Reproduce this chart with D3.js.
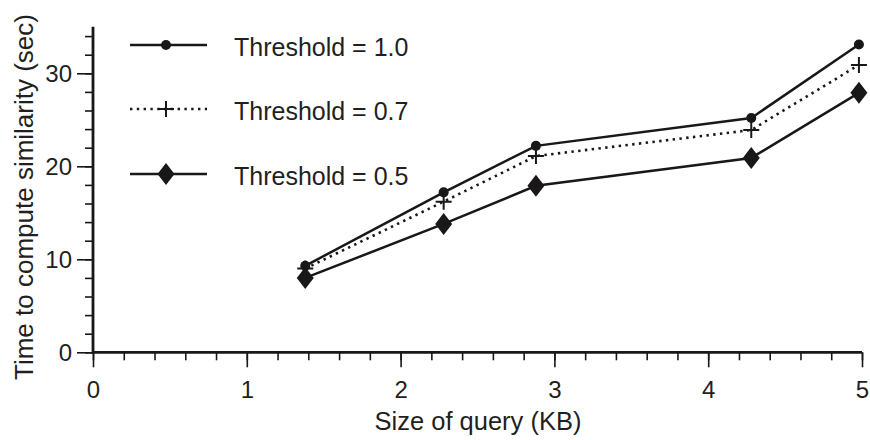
<!DOCTYPE html>
<html>
<head>
<meta charset="utf-8">
<script src="https://cdn.jsdelivr.net/npm/d3@7"></script>
<style>
  body { margin: 0; background: #fff; }
  text { font-family: "Liberation Sans", Arial, sans-serif; fill: #231f20; }
</style>
</head>
<body>
<div id="root"></div>
<script>
// Data.
const sizes = [1.38, 2.28, 2.88, 4.28, 4.98];
const thr10 = [9.3, 17.2, 22.2, 25.2, 33.1];
const thr07 = [9.0, 16.2, 21.1, 23.9, 30.9];
const thr05 = [8.0, 13.8, 17.9, 20.9, 27.9];
const seriesNames = ['Threshold = 1.0', 'Threshold = 0.7', 'Threshold = 0.5'];
const xTicks = [0, 1, 2, 3, 4, 5];
const yTicks = [0, 10, 20, 30];

let width = 870;
let height = 440;
let ink = '#1a1718';

let svg = d3.select('#root')
  .append('svg')
  .attr('width', width)
  .attr('height', height);

let xScale = d3.scaleLinear().domain([0, 5]).range([93, 862]);
let yScale = d3.scaleLinear().domain([0, 35]).range([352.3, 26.8]);

// Minor ticks first, then the major ones on top.
let xMinor = d3.range(0, 5.01, 0.2);
let yMinor = d3.range(0, 35, 2);

let xAxisMinor = d3.axisBottom(xScale).tickValues(xMinor).tickSize(8).tickFormat('');
let xAxisMajor = d3.axisBottom(xScale).tickValues(xTicks).tickSize(15).tickFormat(d3.format('d'));
let yAxisMinor = d3.axisLeft(yScale).tickValues(yMinor).tickSize(8).tickFormat('');
let yAxisMajor = d3.axisLeft(yScale).tickValues(yTicks).tickSize(16).tickFormat(d3.format('d'));

let styleAxis = (g) => {
  g.select('.domain').remove();
  g.selectAll('.tick line').attr('stroke', ink).attr('stroke-width', 1.6);
  g.selectAll('.tick text').attr('font-size', 24).attr('fill', ink);
};

svg.append('g').attr('transform', 'translate(0,352.3)').call(xAxisMinor).call(styleAxis);
svg.append('g').attr('transform', 'translate(0,352.3)').call(xAxisMajor).call(styleAxis)
  .selectAll('.tick text').attr('y', 46).attr('dy', 0);

svg.append('g').attr('transform', 'translate(93,0)').call(yAxisMinor).call(styleAxis);
svg.append('g').attr('transform', 'translate(93,0)').call(yAxisMajor).call(styleAxis)
  .selectAll('.tick text').attr('x', -21).attr('dy', '0.36em');

// Axis lines.
svg.append('line')
  .attr('x1', xScale(0)).attr('x2', xScale(5))
  .attr('y1', yScale(0)).attr('y2', yScale(0))
  .attr('stroke', ink).attr('stroke-width', 2.8);
svg.append('line')
  .attr('x1', xScale(0)).attr('x2', xScale(0))
  .attr('y1', yScale(0) + 1.4).attr('y2', yScale(35))
  .attr('stroke', ink).attr('stroke-width', 2.8);

// Axis titles.
svg.append('text')
  .attr('x', 478).attr('y', 430)
  .attr('text-anchor', 'middle')
  .attr('font-size', 25.5)
  .text('Size of query (KB)');

svg.append('text')
  .attr('transform', 'translate(33,197) rotate(-90)')
  .attr('text-anchor', 'middle')
  .attr('font-size', 26)
  .text('Time to compute similarity (sec)');

// Series.
let series = [
  { name: seriesNames[0], values: thr10, dash: null, marker: 'circle' },
  { name: seriesNames[1], values: thr07, dash: '2.4,4.4', marker: 'plus' },
  { name: seriesNames[2], values: thr05, dash: null, marker: 'diamond' }
];

let line = d3.line()
  .x((d) => xScale(d[0]))
  .y((d) => yScale(d[1]));

let drawMarker = (g, type, x, y) => {
  if (type === 'circle') {
    g.append('circle').attr('cx', x).attr('cy', y).attr('r', 5).attr('fill', ink);
  } else if (type === 'plus') {
    g.append('path')
      .attr('d', `M${x - 8},${y}H${x + 8}M${x},${y - 8}V${y + 8}`)
      .attr('stroke', ink).attr('stroke-width', 2).attr('fill', 'none');
  } else {
    g.append('path')
      .attr('d', `M${x},${y - 11}L${x + 8.5},${y}L${x},${y + 11}L${x - 8.5},${y}Z`)
      .attr('fill', ink);
  }
};

series.forEach((s) => {
  let pts = sizes.map((x, i) => [x, s.values[i]]);
  svg.append('path')
    .datum(pts)
    .attr('d', line)
    .attr('fill', 'none')
    .attr('stroke', ink)
    .attr('stroke-width', s.dash ? 2.6 : 2.5)
    .attr('stroke-dasharray', s.dash)
    .attr('stroke-linecap', s.dash ? 'butt' : 'round');
  let g = svg.append('g');
  pts.forEach((p) => drawMarker(g, s.marker, xScale(p[0]), yScale(p[1])));
});

// Legend.
let legendY = [45, 109, 174];
series.forEach((s, i) => {
  let y = legendY[i];
  svg.append('line')
    .attr('x1', 130).attr('x2', 207)
    .attr('y1', y).attr('y2', y)
    .attr('stroke', ink)
    .attr('stroke-width', s.dash ? 2.6 : 2.5)
    .attr('stroke-dasharray', s.dash);
  drawMarker(svg, s.marker, 166, y);
  svg.append('text')
    .attr('x', 234).attr('y', y + 2)
    .attr('dy', '0.36em')
    .attr('font-size', 25)
    .text(s.name);
});
</script>
</body>
</html>
